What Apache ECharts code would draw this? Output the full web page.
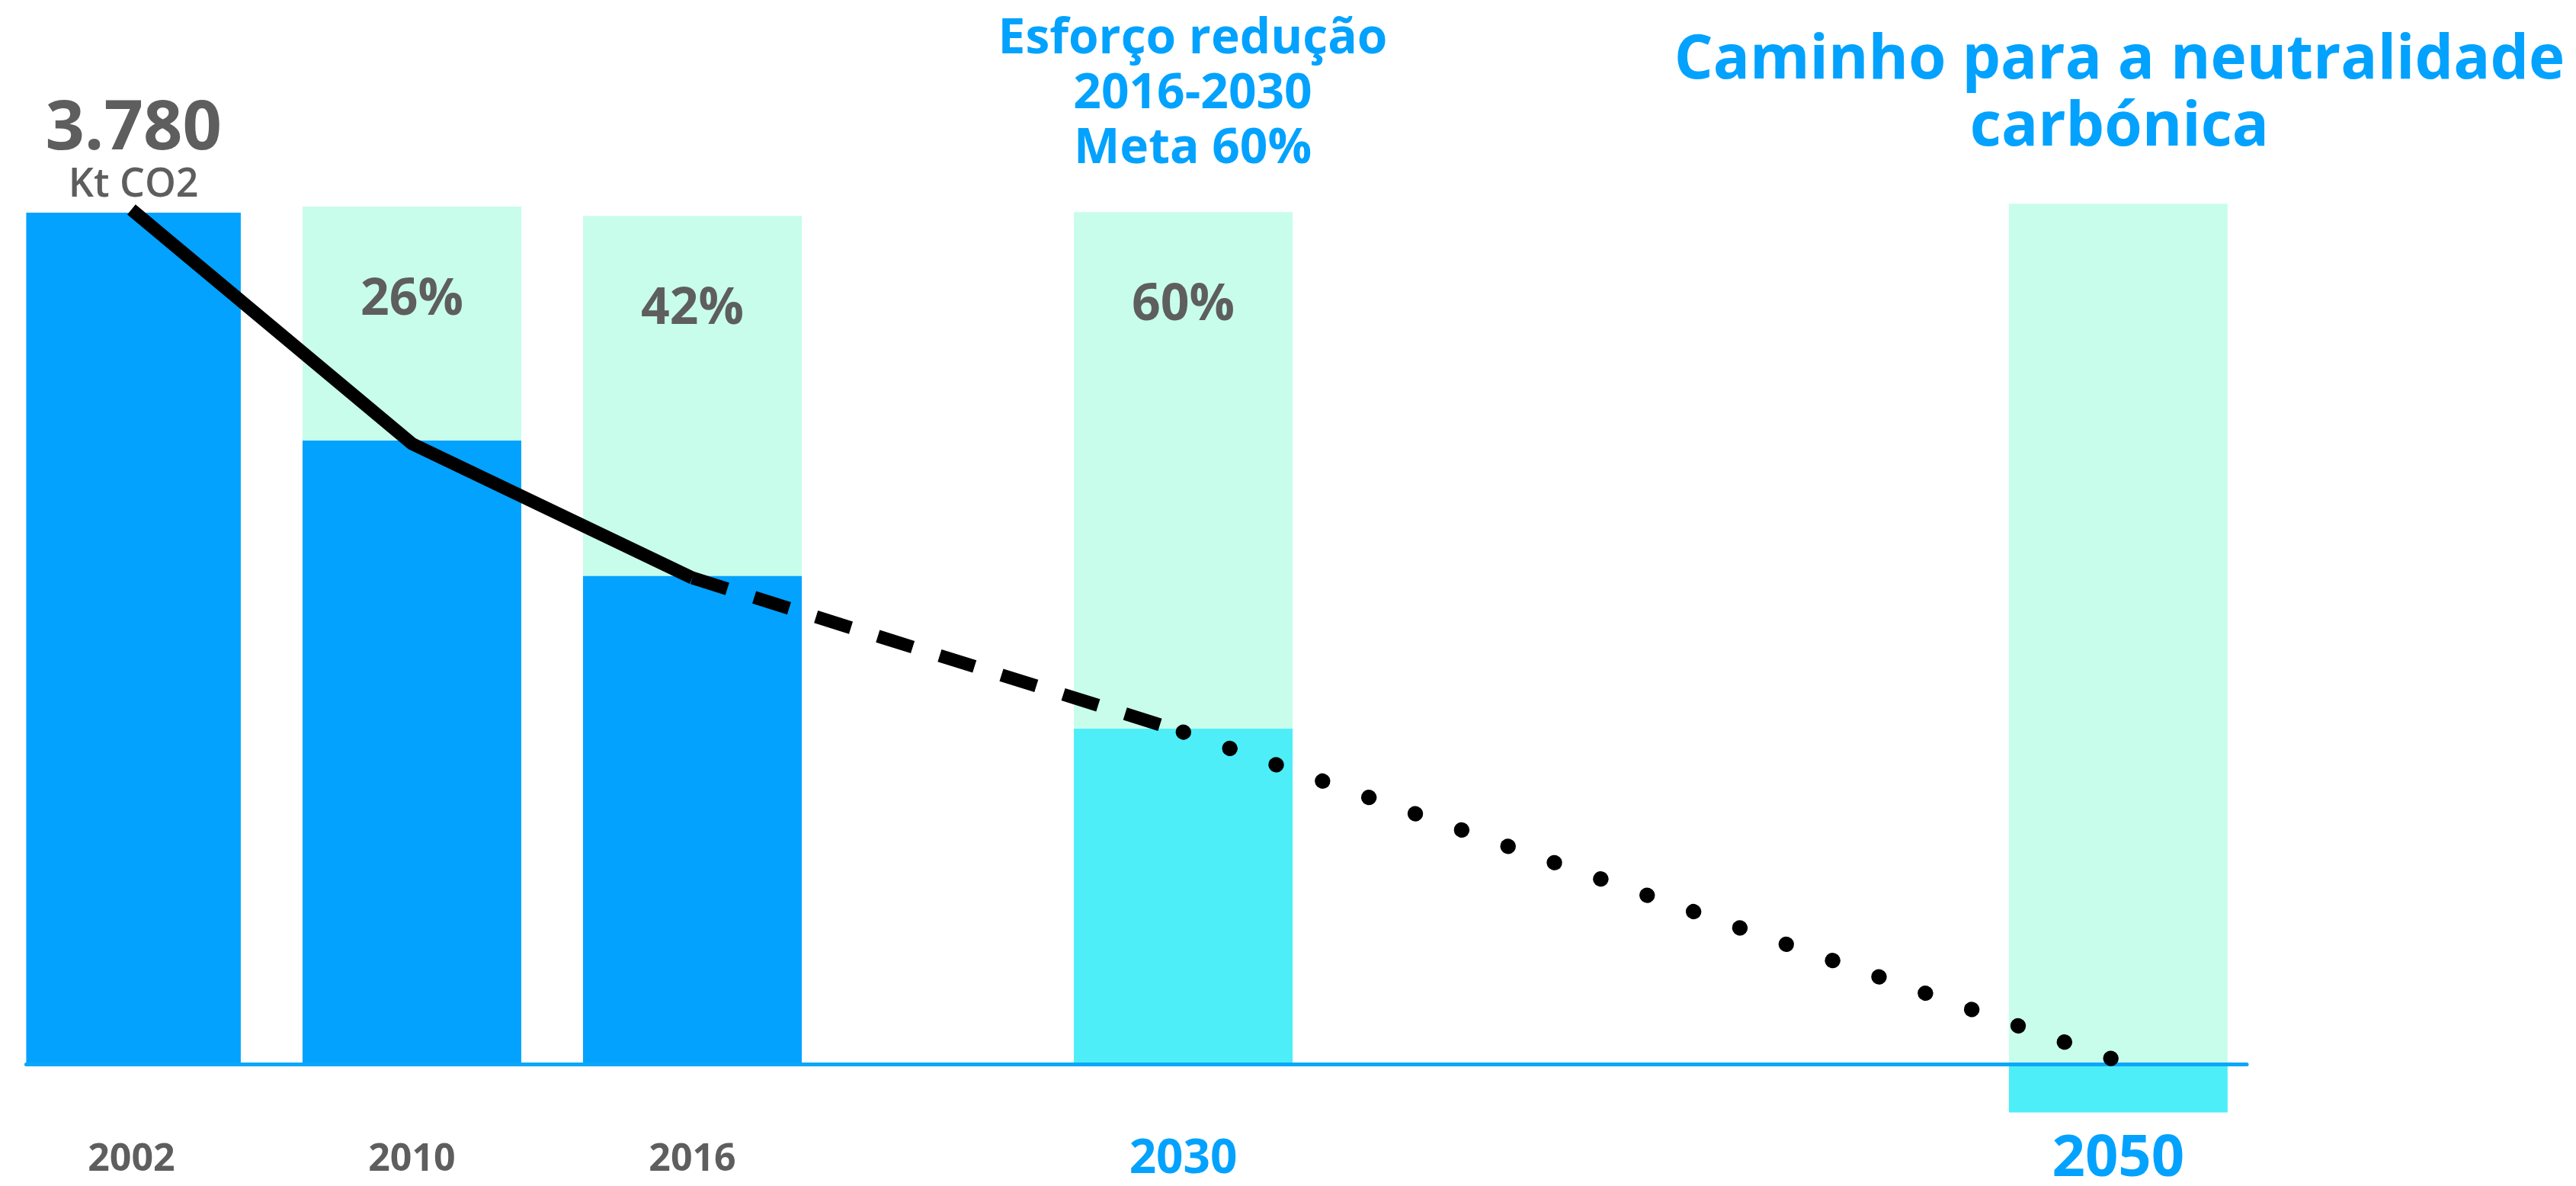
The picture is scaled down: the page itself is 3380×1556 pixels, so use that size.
<!DOCTYPE html>
<html><head><meta charset="utf-8">
<script src="https://cdn.jsdelivr.net/npm/echarts@6/dist/echarts.min.js"></script>
<style>html,body{margin:0;padding:0;background:#fff}#c{width:3380px;height:1556px}</style>
</head><body><div id="c"></div>
<script>
// ---- data ----
const years = ['2002', '2010', '2016', '2030', '2050'];
const emissions = [3780, 2769, 2167, 1490, -213];
const reductionTops = [null, 3807, 3766, 3783, 3820];
const reductionLabels = ['', '26%', '42%', '60%', ''];
const trajectory = [3794, 2755, 2159, 1475, 15];
const yearKind = ['actual', 'actual', 'actual', 'target', 'target'];
const unitLabel = 'Kt CO2';
const titleTarget = ['Esforço redução', '2016-2030', 'Meta 60%'];
const titleNeutral = ['Caminho para a neutralidade', 'carbónica'];

// ---- layout (category slots) ----
const slotCount = 95;
const slotOf = [4, 16, 28, 49, 89];

const BLUE = '#03a2fe', CYAN = '#4deef8', MINT = '#c8fdec', GRAY = '#5e5e5e', AXIS = '#0aa7f9';
const FONT = 'Open Sans';

const categories = [];
const labelAt = [];
for (let i = 0; i < slotCount; i++) { categories.push('s' + i); labelAt.push(null); }
slotOf.forEach((s, k) => { labelAt[s] = k; });

function spread(values) {
  const arr = new Array(slotCount).fill(null);
  values.forEach((v, k) => { if (v !== null && v !== undefined) arr[slotOf[k]] = v; });
  return arr;
}
function segment(from, to) {
  const arr = new Array(slotCount).fill(null);
  for (let k = from; k <= to; k++) arr[slotOf[k]] = trajectory[k];
  return arr;
}
const fmt = n => String(n).replace(/\B(?=(\d{3})+(?!\d))/g, '.');

const chart = echarts.init(document.getElementById('c'));
chart.setOption({
  animation: false,
  backgroundColor: '#fff',
  grid: { left: 34.4, right: 431.95, top: 214, bottom: 94.5, containLabel: false, outerBoundsMode: 'none' },
  xAxis: {
    type: 'category',
    data: categories,
    z: 5,
    axisLine: { show: true, onZero: true, lineStyle: { color: AXIS, width: 5 } },
    axisTick: { show: false },
    splitLine: { show: false },
    axisLabel: {
      interval: 0,
      margin: 20,
      hideOverlap: false,
      formatter: (v, i) => {
        const k = labelAt[i];
        if (k === null || k === undefined) return '';
        if (yearKind[k] === 'actual') return '{g|' + years[k] + '}';
        return (k === years.length - 1 ? '{t2|' : '{t|') + years[k] + '}';
      },
      rich: {
        g: { fontFamily: FONT, fontWeight: 'bold', fontSize: 50, color: GRAY, lineHeight: 80 },
        t: { fontFamily: FONT, fontWeight: 'bold', fontSize: 62, color: BLUE, lineHeight: 80 },
        t2: { fontFamily: FONT, fontWeight: 'bold', fontSize: 76, color: BLUE, lineHeight: 80 }
      }
    }
  },
  yAxis: { type: 'value', min: -220, max: 4000, show: false, splitLine: { show: false } },
  graphic: [
    { type: 'text', x: 1565, y: 16, z: 20,
      style: { text: titleTarget.join('\n'), align: 'center', verticalAlign: 'top',
        fontFamily: FONT, fontWeight: 'bold', fontSize: 64, lineHeight: 72, fill: BLUE } },
    { type: 'text', x: 2781, y: 36, z: 20,
      style: { text: titleNeutral.join('\n'), align: 'center', verticalAlign: 'top',
        fontFamily: FONT, fontWeight: 'bold', fontSize: 80, lineHeight: 88, fill: BLUE } }
  ],
  series: [
    {
      name: 'reduction', type: 'bar', barWidth: 287, barGap: '-100%',
      data: spread(reductionTops),
      itemStyle: { color: MINT },
      label: {
        show: true, position: 'insideTop', distance: 88,
        formatter: p => { const k = labelAt[p.dataIndex]; return k === null ? '' : reductionLabels[k]; },
        fontFamily: FONT, fontWeight: 'bold', fontSize: 66, color: GRAY, lineHeight: 70
      },
      silent: true
    },
    {
      name: 'emissions', type: 'bar', barWidth: 287, barGap: '-100%',
      data: spread(emissions),
      itemStyle: { color: p => { const k = labelAt[p.dataIndex]; return yearKind[k] === 'actual' ? BLUE : CYAN; } },
      label: {
        show: true, position: 'top', distance: 7,
        formatter: p => labelAt[p.dataIndex] === 0 ? '{v|' + fmt(emissions[0]) + '}\n{u|' + unitLabel + '}' : '',
        rich: {
          v: { fontFamily: FONT, fontWeight: 'bold', fontSize: 90, color: GRAY, lineHeight: 88 },
          u: { fontFamily: FONT, fontWeight: 600, fontSize: 52, color: GRAY, lineHeight: 58 }
        }
      },
      silent: true
    },
    {
      name: 'historic', type: 'line', z: 10, data: segment(0, 2), connectNulls: true,
      showSymbol: false, symbol: 'none',
      lineStyle: { color: '#000', width: 17, cap: 'butt', join: 'miter' }
    },
    {
      name: 'target', type: 'line', z: 10, data: segment(2, 3), connectNulls: true,
      showSymbol: false, symbol: 'none',
      lineStyle: { color: '#000', width: 17, type: [48, 37], cap: 'butt' }
    },
    {
      name: 'neutrality', type: 'line', z: 10, data: segment(3, 4), connectNulls: true,
      showSymbol: false, symbol: 'none',
      lineStyle: { color: '#000', width: 20, type: [0.5, 64], cap: 'round' }
    }
  ]
});
</script></body></html>
